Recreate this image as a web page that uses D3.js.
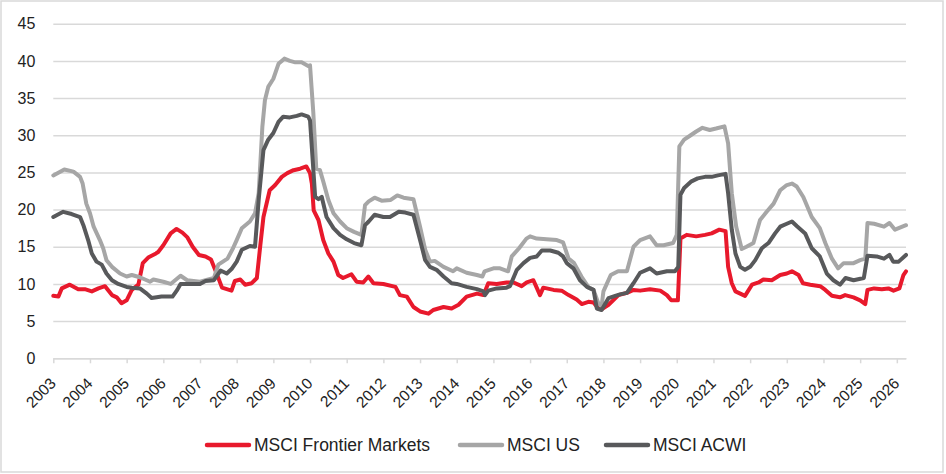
<!DOCTYPE html>
<html>
<head>
<meta charset="utf-8">
<script src="https://cdn.jsdelivr.net/npm/d3@7"></script>
<style>
  body { margin: 0; background: #fff; }
  svg { display: block; font-family: "Liberation Sans", Arial, sans-serif; }
</style>
</head>
<body>
<svg width="946" height="474"></svg>
<script>
// Data: [decimal year, value]
const frontier = [[2003.0,8.4],[2003.14,8.3],[2003.23,9.4],[2003.45,9.9],[2003.68,9.3],[2003.86,9.3],[2004.05,9.0],[2004.23,9.4],[2004.41,9.7],[2004.6,8.5],[2004.73,8.2],[2004.86,7.4],[2005.0,7.8],[2005.14,9.2],[2005.32,9.9],[2005.44,12.8],[2005.6,13.6],[2005.8,14.1],[2005.86,14.3],[2006.0,15.2],[2006.2,16.8],[2006.36,17.4],[2006.52,16.9],[2006.65,16.3],[2006.8,15.0],[2006.97,13.9],[2007.15,13.7],[2007.3,13.3],[2007.43,11.7],[2007.6,9.5],[2007.73,9.3],[2007.86,9.1],[2007.95,10.4],[2008.1,10.6],[2008.23,9.9],[2008.41,10.1],[2008.55,10.8],[2008.64,15.0],[2008.73,19.0],[2008.9,22.6],[2009.05,23.3],[2009.23,24.4],[2009.38,24.9],[2009.55,25.3],[2009.73,25.5],[2009.9,25.8],[2010.0,24.9],[2010.05,23.5],[2010.1,19.9],[2010.23,18.6],[2010.36,15.9],[2010.5,14.1],[2010.64,13.0],[2010.77,11.2],[2010.9,10.8],[2011.13,11.3],[2011.27,10.3],[2011.45,10.2],[2011.59,11.0],[2011.73,10.1],[2012.0,10.0],[2012.33,9.6],[2012.45,8.5],[2012.64,8.3],[2012.82,6.9],[2013.0,6.3],[2013.23,6.0],[2013.36,6.5],[2013.64,6.9],[2013.86,6.7],[2014.05,7.2],[2014.27,8.3],[2014.55,8.7],[2014.73,8.5],[2014.86,10.1],[2015.09,10.0],[2015.36,10.2],[2015.55,10.2],[2015.77,9.7],[2015.91,10.2],[2016.09,10.5],[2016.18,9.5],[2016.27,8.5],[2016.36,9.5],[2016.64,9.2],[2016.86,9.1],[2017.05,8.5],[2017.27,7.9],[2017.41,7.3],[2017.59,7.6],[2017.73,7.5],[2017.86,6.7],[2017.95,6.6],[2018.14,7.2],[2018.41,8.5],[2018.64,8.8],[2018.82,9.2],[2019.0,9.1],[2019.27,9.3],[2019.55,9.1],[2019.73,8.5],[2019.85,7.8],[2020.03,7.8],[2020.1,16.1],[2020.27,16.6],[2020.53,16.4],[2020.77,16.6],[2020.95,16.8],[2021.16,17.3],[2021.33,17.1],[2021.4,12.3],[2021.5,10.1],[2021.6,9.0],[2021.73,8.7],[2021.86,8.4],[2022.05,9.9],[2022.23,10.2],[2022.36,10.6],[2022.59,10.5],[2022.82,11.2],[2023.0,11.4],[2023.14,11.7],[2023.32,11.2],[2023.44,10.1],[2023.64,9.9],[2023.91,9.7],[2024.05,9.2],[2024.23,8.4],[2024.45,8.2],[2024.59,8.5],[2024.82,8.2],[2025.0,7.8],[2025.14,7.3],[2025.2,9.2],[2025.38,9.4],[2025.59,9.3],[2025.77,9.4],[2025.91,9.1],[2026.07,9.4],[2026.18,11.2],[2026.25,11.7]];

const us = [[2003.0,24.6],[2003.3,25.4],[2003.55,25.1],[2003.73,24.4],[2003.8,23.5],[2003.9,20.8],[2004.0,19.5],[2004.1,17.7],[2004.27,15.9],[2004.36,14.8],[2004.45,13.2],[2004.6,12.3],[2004.82,11.4],[2005.0,11.0],[2005.14,11.2],[2005.36,10.9],[2005.64,10.3],[2005.73,10.6],[2006.0,10.3],[2006.2,10.0],[2006.47,11.1],[2006.65,10.5],[2007.0,10.3],[2007.38,10.8],[2007.5,12.6],[2007.75,13.4],[2007.9,14.8],[2008.0,15.9],[2008.14,17.5],[2008.36,18.4],[2008.5,19.5],[2008.6,22.2],[2008.7,31.1],[2008.77,34.7],[2008.86,36.5],[2009.0,37.6],[2009.14,39.6],[2009.3,40.3],[2009.45,40.0],[2009.6,39.8],[2009.77,39.8],[2009.95,39.3],[2010.0,39.4],[2010.09,33.0],[2010.17,25.5],[2010.27,25.3],[2010.36,23.8],[2010.5,21.3],[2010.64,19.5],[2010.82,18.4],[2011.0,17.5],[2011.2,17.0],[2011.4,16.6],[2011.5,20.6],[2011.6,21.1],[2011.76,21.6],[2011.95,21.2],[2012.2,21.3],[2012.38,21.9],[2012.55,21.6],[2012.82,21.4],[2013.0,17.7],[2013.14,14.6],[2013.27,13.0],[2013.4,13.1],[2013.64,12.3],[2013.9,11.7],[2014.0,12.1],[2014.27,11.5],[2014.55,11.2],[2014.7,11.0],[2014.76,11.7],[2015.0,12.1],[2015.18,12.1],[2015.4,11.7],[2015.5,13.7],[2015.7,14.8],[2015.9,16.1],[2016.0,16.4],[2016.18,16.1],[2016.45,16.0],[2016.73,15.9],[2016.9,15.6],[2017.05,13.4],[2017.2,12.8],[2017.4,11.0],[2017.6,9.5],[2017.73,9.2],[2017.86,7.4],[2017.95,7.0],[2018.0,9.0],[2018.2,11.2],[2018.4,11.7],[2018.64,11.7],[2018.82,15.0],[2019.0,15.9],[2019.27,16.4],[2019.45,15.2],[2019.64,15.2],[2019.9,15.5],[2020.0,16.6],[2020.07,28.5],[2020.2,29.4],[2020.35,29.9],[2020.53,30.5],[2020.7,31.0],[2020.9,30.7],[2021.07,30.9],[2021.3,31.2],[2021.4,28.9],[2021.5,22.2],[2021.62,17.7],[2021.77,14.7],[2021.9,15.0],[2022.09,15.5],[2022.27,18.6],[2022.45,19.7],[2022.64,20.8],[2022.82,22.6],[2023.0,23.3],[2023.14,23.5],[2023.27,23.1],[2023.45,21.7],[2023.68,19.0],[2023.9,17.5],[2024.05,15.5],[2024.23,13.4],[2024.4,12.1],[2024.55,12.8],[2024.82,12.8],[2025.0,13.2],[2025.14,13.4],[2025.2,18.2],[2025.38,18.1],[2025.65,17.7],[2025.8,18.2],[2025.95,17.3],[2026.25,17.9]];

const acwi = [[2003.0,19.0],[2003.27,19.7],[2003.5,19.4],[2003.73,19.0],[2003.82,17.9],[2003.95,15.9],[2004.05,14.1],[2004.18,13.0],[2004.32,12.6],[2004.45,11.4],[2004.6,10.5],[2004.77,10.0],[2005.0,9.6],[2005.14,9.5],[2005.36,9.4],[2005.55,8.7],[2005.68,8.1],[2005.82,8.2],[2005.95,8.3],[2006.25,8.3],[2006.38,9.2],[2006.47,10.0],[2006.8,10.0],[2007.0,10.0],[2007.15,10.4],[2007.38,10.5],[2007.56,11.8],[2007.73,11.4],[2007.86,12.0],[2008.0,13.0],[2008.14,14.6],[2008.36,15.1],[2008.5,15.0],[2008.6,21.3],[2008.73,28.0],[2008.86,29.4],[2009.0,30.3],[2009.14,31.8],[2009.27,32.5],[2009.45,32.4],[2009.64,32.6],[2009.77,32.8],[2009.95,32.5],[2010.0,32.0],[2010.14,21.7],[2010.23,21.4],[2010.32,21.7],[2010.45,19.0],[2010.64,17.5],[2010.82,16.6],[2011.0,16.0],[2011.2,15.5],[2011.4,15.2],[2011.5,17.9],[2011.6,18.4],[2011.76,19.3],[2012.0,19.0],[2012.18,19.0],[2012.42,19.7],[2012.6,19.6],[2012.82,19.3],[2013.0,15.9],[2013.14,13.2],[2013.27,12.3],[2013.45,11.9],[2013.64,11.0],[2013.86,10.1],[2014.0,10.0],[2014.27,9.6],[2014.55,9.3],[2014.73,9.0],[2014.77,8.5],[2014.86,9.1],[2015.09,9.4],[2015.36,9.5],[2015.45,9.7],[2015.64,11.9],[2015.82,12.8],[2016.0,13.5],[2016.18,13.7],[2016.32,14.5],[2016.55,14.5],[2016.77,14.2],[2016.9,13.7],[2017.0,12.8],[2017.18,12.1],[2017.36,10.5],[2017.55,9.6],[2017.73,9.2],[2017.82,6.7],[2017.95,6.5],[2018.14,8.1],[2018.32,8.4],[2018.45,8.6],[2018.64,8.8],[2018.82,10.1],[2019.0,11.5],[2019.27,12.1],[2019.45,11.4],[2019.73,11.7],[2019.95,11.7],[2020.04,12.3],[2020.1,22.0],[2020.2,22.9],[2020.4,23.8],[2020.57,24.2],[2020.77,24.4],[2020.95,24.4],[2021.12,24.6],[2021.33,24.8],[2021.4,22.2],[2021.5,17.3],[2021.6,14.1],[2021.73,12.3],[2021.86,11.9],[2022.0,12.3],[2022.14,13.2],[2022.32,14.8],[2022.5,15.5],[2022.68,16.8],[2022.82,17.7],[2023.0,18.1],[2023.14,18.4],[2023.27,17.8],[2023.5,16.8],[2023.68,14.8],[2023.9,13.7],[2024.09,11.4],[2024.27,10.5],[2024.45,9.9],[2024.6,10.8],[2024.82,10.5],[2025.1,10.8],[2025.2,13.8],[2025.45,13.7],[2025.65,13.4],[2025.8,13.9],[2025.9,13.0],[2026.05,13.0],[2026.25,13.9]];

const years = d3.range(2003, 2027);
const yTicks = [0, 5, 10, 15, 20, 25, 30, 35, 40, 45];

const series = [
  { name: "MSCI Frontier Markets", data: frontier, color: "#E8192C" },
  { name: "MSCI US", data: us, color: "#A6A6A6" },
  { name: "MSCI ACWI", data: acwi, color: "#58595B" }
];

const svg = d3.select("svg");
const margin = { top: 23.7, left: 53.3, right: 40, bottom: 115.7 };
const width = 946, height = 474;

// outer chart border
svg.append("rect")
   .attr("x", 1).attr("y", 1)
   .attr("width", 942).attr("height", 471)
   .attr("fill", "none").attr("stroke", "#D9D9D9").attr("stroke-width", 1.5);

const x = d3.scaleLinear()
            .domain([2003, 2026.25])
            .range([margin.left, width - margin.right]);
const y = d3.scaleLinear()
            .domain([0, 45])
            .range([height - margin.bottom, margin.top]);

// gridlines + y labels
const yAxis = svg.append("g")
   .attr("transform", `translate(${margin.left},0)`)
   .call(d3.axisLeft(y).tickValues(yTicks).tickSize(-(x.range()[1] - margin.left)).tickPadding(18));
yAxis.select(".domain").remove();
yAxis.selectAll(".tick line").attr("stroke", "#D9D9D9").attr("stroke-width", 1.5);
yAxis.selectAll(".tick text").attr("font-size", 16).attr("fill", "#222")
     .attr("font-family", "'Liberation Sans', Arial, sans-serif");

// x axis
const xAxis = svg.append("g")
   .attr("transform", `translate(0,${y(0)})`)
   .call(d3.axisBottom(x).tickValues(years).tickFormat(d3.format("d")).tickSize(5).tickSizeOuter(0));
xAxis.select(".domain").attr("stroke", "#D9D9D9").attr("stroke-width", 1.5);
xAxis.selectAll(".tick line").attr("stroke", "#D9D9D9").attr("stroke-width", 1.5);
xAxis.selectAll(".tick text")
     .attr("font-size", 15.5).attr("fill", "#222")
     .attr("font-family", "'Liberation Sans', Arial, sans-serif")
     .attr("text-anchor", "end")
     .attr("y", 0).attr("dy", 0)
     .attr("transform", "translate(3,26) rotate(-45)");

// lines
const line = d3.line()
               .x(d => x(d[0]))
               .y(d => y(d[1]))
               .curve(d3.curveLinear);

svg.append("g").selectAll("path")
   .data(series)
   .join("path")
   .attr("d", d => line(d.data))
   .attr("fill", "none")
   .attr("stroke", d => d.color)
   .attr("stroke-width", 4)
   .attr("stroke-linejoin", "round")
   .attr("stroke-linecap", "round");

// legend
const legendX = [207, 460, 606];
const legend = svg.append("g").attr("transform", "translate(0,445)");
const item = legend.selectAll("g")
   .data(series)
   .join("g")
   .attr("transform", (d, i) => `translate(${legendX[i]},0)`);
item.append("line")
    .attr("x1", 0).attr("x2", 42).attr("y1", 0).attr("y2", 0)
    .attr("stroke", d => d.color).attr("stroke-width", 4.5).attr("stroke-linecap", "round");
item.append("text")
    .attr("x", 47).attr("dy", "0.36em")
    .attr("font-size", 17.5).attr("fill", "#222")
    .text(d => d.name);
</script>
</body>
</html>
